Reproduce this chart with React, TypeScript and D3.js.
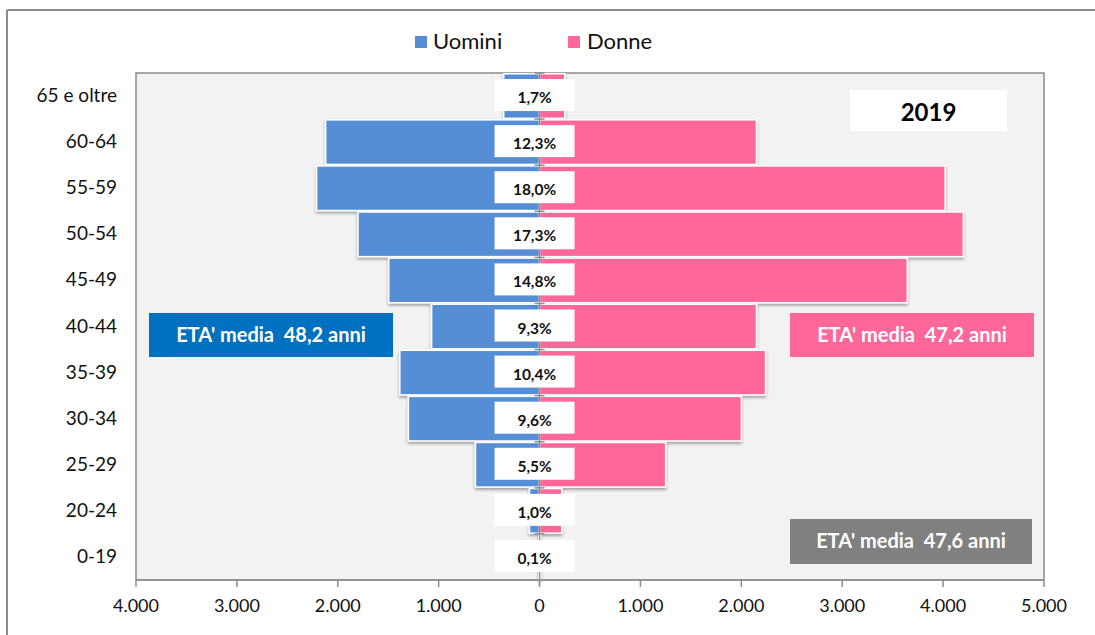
import React from "react";
import * as d3 from "d3";

const ageGroups = ["65 e oltre", "60-64", "55-59", "50-54", "45-49", "40-44", "35-39", "30-34", "25-29", "20-24", "0-19"];
const menValues = [355, 2120, 2210, 1800, 1495, 1070, 1385, 1300, 635, 100, 8];
const womenValues = [250, 2150, 4020, 4200, 3645, 2150, 2240, 2000, 1250, 220, 8];
const shareLabels = ["1,7%", "12,3%", "18,0%", "17,3%", "14,8%", "9,3%", "10,4%", "9,6%", "5,5%", "1,0%", "0,1%"];
const xTickValues = [-4000, -3000, -2000, -1000, 0, 1000, 2000, 3000, 4000, 5000];
const seriesNames = ["Uomini", "Donne"];
const yearLabel = "2019";
const avgMen = "ETA' media  48,2 anni";
const avgWomen = "ETA' media  47,2 anni";
const avgAll = "ETA' media  47,6 anni";

const W = 1095;
const H = 635;
const FONT = "Lato, 'Open Sans', sans-serif";
const BLUE = "#558ED5";
const PINK = "#FF6699";

export default function App() {
  const left = 136, right = 1044, top = 73, bottom = 580;
  const x = d3.scaleLinear().domain([-4000, 5000]).range([left, right]);
  const y = d3.scaleBand<string>().domain(ageGroups).range([top, bottom]).padding(0);
  const bw = y.bandwidth();
  const x0 = x(0);
  const loc = d3.formatLocale({ decimal: ",", thousands: ".", grouping: [3], currency: ["", "€"] });
  const fmt = loc.format(",");
  const pre = { whiteSpace: "pre" } as React.CSSProperties;

  return (
    <svg width={W} height={H} style={{ position: "absolute", left: 0, top: 0, background: "#fff" }} fontFamily={FONT}>
      <defs>
        <filter id="sh" x="-10%" y="-20%" width="120%" height="160%">
          <feDropShadow dx="0" dy="2" stdDeviation="1.6" floodColor="#000" floodOpacity="0.35" />
        </filter>
      </defs>
      <rect x={0} y={0} width={W} height={H} fill="#fff" />
      {/* outer frame */}
      <line x1={7} x2={W} y1={10} y2={10} stroke="#8c8c8c" strokeWidth={2} />
      <line x1={7} x2={7} y1={10} y2={H} stroke="#8c8c8c" strokeWidth={2} />

      {/* legend */}
      <rect x={415} y={36} width={12} height={12} fill={BLUE} />
      <text x={433} y={49} fontSize={22} fill="#111">{seriesNames[0]}</text>
      <rect x={568} y={36} width={12} height={12} fill={PINK} />
      <text x={587} y={49} fontSize={22} fill="#111">{seriesNames[1]}</text>

      {/* plot area */}
      <rect x={left} y={top} width={right - left} height={bottom - top} fill="#F2F2F2" stroke="#8c8c8c" strokeWidth={1.5} />

      {/* bars */}
      <g filter="url(#sh)">
        {ageGroups.map((g, i) => (
          <rect key={"m" + g} x={x(-menValues[i])} y={(y(g) as number) + 0.75} width={x0 - x(-menValues[i])} height={bw - 1.5}
            fill={BLUE} stroke="#fff" strokeWidth={1.5} />
        ))}
        {ageGroups.map((g, i) => (
          <rect key={"w" + g} x={x0} y={(y(g) as number) + 0.75} width={x(womenValues[i]) - x0} height={bw - 1.5}
            fill={PINK} stroke="#fff" strokeWidth={1.5} />
        ))}
      </g>

      {/* zero axis */}
      <line x1={x0} x2={x0} y1={top} y2={bottom} stroke="#8c8c8c" strokeWidth={1.5} />
      {ageGroups.map((g) => (
        <line key={"t" + g} x1={x0 - 5} x2={x0 + 5} y1={y(g) as number} y2={y(g) as number} stroke="#8c8c8c" strokeWidth={1.5} />
      ))}

      {/* share labels */}
      {ageGroups.map((g, i) => {
        const cy = (y(g) as number) + bw / 2;
        return (
          <g key={"l" + g}>
            <rect x={x0 - 45} y={cy - 17} width={80} height={32} fill="#fff" />
            <text x={x0 - 5} y={cy + 7} textAnchor="middle" fontSize={15.5} fontWeight="bold" fill="#111">{shareLabels[i]}</text>
          </g>
        );
      })}

      {/* y labels */}
      {ageGroups.map((g) => (
        <text key={"y" + g} x={117} y={(y(g) as number) + bw / 2 + 6} textAnchor="end" fontSize={19} fill="#111">{g}</text>
      ))}

      {/* x axis */}
      <line x1={left} x2={right} y1={bottom} y2={bottom} stroke="#8c8c8c" strokeWidth={1.5} />
      {xTickValues.map((v) => (
        <g key={"x" + v}>
          <line x1={x(v)} x2={x(v)} y1={bottom} y2={bottom + 7} stroke="#8c8c8c" strokeWidth={1.5} />
          <text x={x(v)} y={612} textAnchor="middle" fontSize={18} fill="#111">{fmt(Math.abs(v))}</text>
        </g>
      ))}

      {/* year box */}
      <rect x={850} y={90} width={157} height={41} fill="#fff" />
      <text x={928.5} y={121} textAnchor="middle" fontSize={24} fontWeight="bold" fill="#000">{yearLabel}</text>

      {/* average age boxes */}
      <rect x={149} y={313} width={244} height={44} fill="#0070C0" />
      <text x={271} y={342} textAnchor="middle" fontSize={20} fontWeight="bold" fill="#fff" style={pre}>{avgMen}</text>
      <rect x={790} y={313} width={244} height={44} fill={PINK} />
      <text x={912} y={342} textAnchor="middle" fontSize={20} fontWeight="bold" fill="#fff" style={pre}>{avgWomen}</text>
      <rect x={790} y={519} width={242} height={45} fill="#808080" />
      <text x={911} y={548} textAnchor="middle" fontSize={20} fontWeight="bold" fill="#fff" style={pre}>{avgAll}</text>
    </svg>
  );
}
